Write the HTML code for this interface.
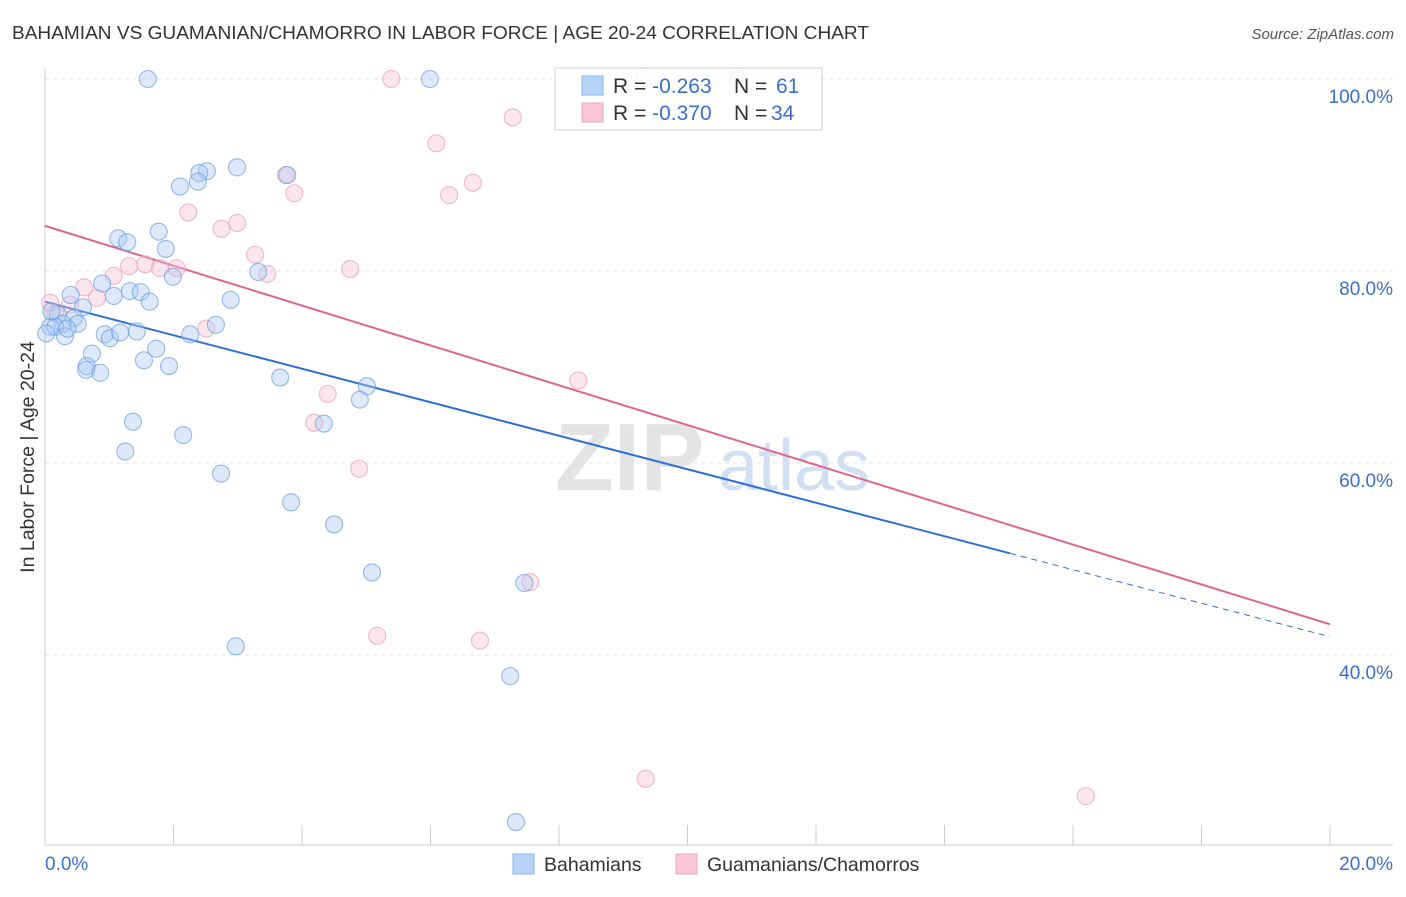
<!DOCTYPE html>
<html><head><meta charset="utf-8"><style>
body{margin:0;background:#fff;font-family:"Liberation Sans",sans-serif;}
svg text{font-family:"Liberation Sans",sans-serif;}
</style></head><body>
<svg id="chart" width="1406" height="892" xmlns="http://www.w3.org/2000/svg">
<text x="12" y="39" font-size="18" fill="#333" textLength="857" lengthAdjust="spacingAndGlyphs">BAHAMIAN VS GUAMANIAN/CHAMORRO IN LABOR FORCE | AGE 20-24 CORRELATION CHART</text>
<text x="1394" y="39" font-size="15" fill="#555" text-anchor="end" font-style="italic">Source: ZipAtlas.com</text>
<text transform="translate(34,457) rotate(-90)" font-size="19.5" fill="#333" text-anchor="middle">In Labor Force | Age 20-24</text>
<g>
<text x="555" y="490" font-size="96" font-family="Liberation Serif" fill="#e4e4e4" font-weight="bold">ZIP</text>
<text x="718" y="490" font-size="72" fill="#d0e0f2">atlas</text>
</g>
<g id="grid"></g><g id="axes"></g><g id="lines"></g><g id="pts"></g>
<g>
<rect x="555" y="68" width="267" height="62" fill="#fff" fill-opacity="0.85" stroke="#ccc"/>
<rect x="582" y="76" width="21" height="19" fill="#b8d3f5" stroke="#8ab3ea"/>
<rect x="582" y="103" width="21" height="19" fill="#f9c6d6" stroke="#eea5bd"/>
<text x="613" y="93" font-size="21" fill="#333">R = <tspan fill="#3a6fd0">-0.263</tspan><tspan x="734">N = </tspan><tspan x="776" fill="#3a6fd0">61</tspan></text>
<text x="613" y="120" font-size="21" fill="#333">R = <tspan fill="#3a6fd0">-0.370</tspan><tspan x="734">N = </tspan><tspan x="771" fill="#3a6fd0">34</tspan></text>
</g>
<g>
<rect x="513" y="854" width="21" height="20" fill="#b8d3f5" stroke="#8ab3ea"/>
<text x="544" y="871" font-size="19.5" fill="#333">Bahamians</text>
<rect x="676" y="854" width="21" height="20" fill="#f9c6d6" stroke="#eea5bd"/>
<text x="707" y="871" font-size="19.5" fill="#333">Guamanians/Chamorros</text>
</g>
</svg>
<script>
const xTicks=[0,2,4,6,8,10,12,14,16,18,20];
const yTicks=[40,60,80,100];
const blueX=[1.60,5.99,2.99,2.52,2.40,2.38,2.10,3.77,1.77,1.14,1.28,1.88,1.99,3.32,0.89,0.40,1.07,1.32,1.49,1.63,2.89,0.59,0.20,0.45,0.28,0.51,0.08,0.16,0.02,0.31,0.93,1.01,1.17,1.43,2.26,2.66,1.73,0.73,1.54,1.93,0.65,0.64,0.86,3.66,5.01,4.90,1.37,4.34,2.15,1.25,2.74,3.83,4.50,5.09,7.46,2.97,7.24,7.33,10.79,0.10,0.35];
const blueY=[100,100,90.8,90.4,90.2,89.3,88.8,90.0,84.1,83.4,83.0,82.3,79.4,79.9,78.7,77.5,77.4,77.9,77.8,76.8,77.0,76.2,75.5,75.1,74.5,74.5,74.2,74.2,73.5,73.2,73.4,73.0,73.6,73.7,73.4,74.4,71.9,71.4,70.7,70.1,70.1,69.7,69.4,68.9,68.0,66.6,64.3,64.1,62.9,61.2,58.9,55.9,53.6,48.6,47.5,40.9,37.8,22.6,100,75.8,74.0];
const pinkX=[5.39,9.32,7.28,6.09,6.66,6.29,3.75,3.88,2.23,2.99,2.75,3.27,1.31,1.56,1.79,2.05,1.07,3.46,4.75,0.61,0.81,0.39,0.08,0.16,2.51,8.30,4.40,4.19,4.89,7.55,5.17,6.77,9.35,16.20];
const pinkY=[100,100,96.0,93.3,89.2,87.9,90.0,88.1,86.1,85.0,84.4,81.7,80.5,80.7,80.3,80.3,79.5,79.7,80.2,78.3,77.2,76.5,76.7,75.6,74.0,68.6,67.2,64.2,59.4,47.6,42.0,41.5,27.1,25.3];
const blueLine=[76.8,41.9], blueSolidEnd=15.02, pinkLine=[84.7,43.2];
const X0=45,X1=1330,YT=79,PX=192/20;
const sx=v=>X0+(v/20)*(X1-X0);
const sy=v=>YT+(100-v)*PX;
const NS="http://www.w3.org/2000/svg";
function mk(p,t,a){const e=document.createElementNS(NS,t);for(const k in a)e.setAttribute(k,a[k]);p.appendChild(e);return e;}
const grid=document.getElementById('grid'),axes=document.getElementById('axes'),lines=document.getElementById('lines'),pts=document.getElementById('pts');
yTicks.forEach(v=>{
const g=mk(grid,'line',{x1:45,x2:1393,y1:sy(v),y2:sy(v),stroke:'#e2e2e2','stroke-dasharray':'4,4'});


const t=mk(grid,'text',{x:1393,y:sy(v)+24,'font-size':19,fill:'#3a6fd0','text-anchor':'end'});t.textContent=v.toFixed(1)+'%';


});
mk(axes,'line',{x1:45,x2:45,y1:68,y2:845,stroke:'#ccc'});
mk(axes,'line',{x1:45,x2:1393,y1:845,y2:845,stroke:'#ccc'});
xTicks.forEach(v=>{
const l=mk(axes,'line',{x1:sx(v),x2:sx(v),y1:825,y2:845,stroke:'#ccc'});


});
[[0,'0.0%','start',45],[20,'20.0%','end',1393]].forEach(a=>{
const t=mk(axes,'text',{x:a[3],y:870,'font-size':19,fill:'#3a6fd0','text-anchor':a[2]});t.textContent=a[1];


});
function pt(x,y,fill,stroke,name){
const c=mk(pts,'circle',{cx:sx(x),cy:sy(y),r:8.5,fill:fill,'fill-opacity':0.4,stroke:stroke,'stroke-opacity':0.7,'stroke-width':1.1});


}
pinkX.forEach((x,i)=>pt(x,pinkY[i],'#f7c0d2','#eb9bb7','guamanian-point'));
blueX.forEach((x,i)=>pt(x,blueY[i],'#a9c9f2','#6a9ee2','bahamian-point'));
const by=x=>blueLine[0]+(blueLine[1]-blueLine[0])*x/20;
const l1=mk(lines,'line',{x1:sx(0),y1:sy(by(0)),x2:sx(blueSolidEnd),y2:sy(by(blueSolidEnd)),stroke:'#2f6fd6','stroke-width':2});


const l2=mk(lines,'line',{x1:sx(blueSolidEnd),y1:sy(by(blueSolidEnd)),x2:sx(20),y2:sy(by(20)),stroke:'#2f6fd6','stroke-width':1,'stroke-dasharray':'6,5'});


const l3=mk(lines,'line',{x1:sx(0),y1:sy(pinkLine[0]),x2:sx(20),y2:sy(pinkLine[1]),stroke:'#e0638e','stroke-width':2});


</script>
</body></html>
